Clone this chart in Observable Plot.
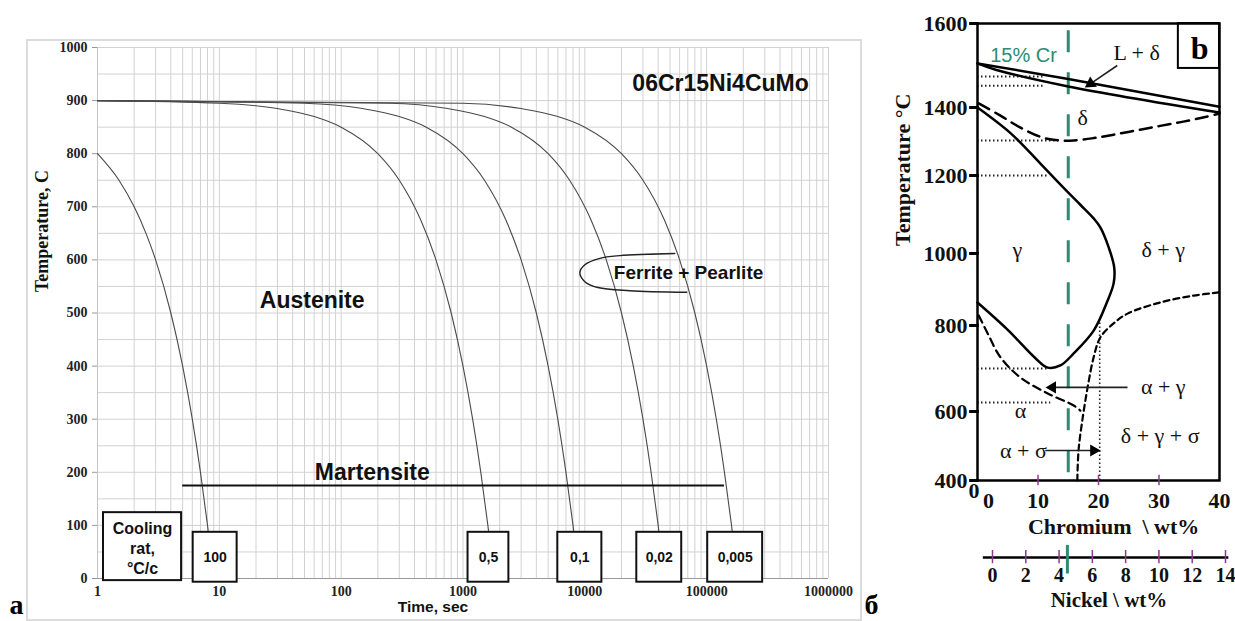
<!DOCTYPE html>
<html><head><meta charset="utf-8">
<script src="https://cdn.jsdelivr.net/npm/d3@7"></script>
<script src="https://cdn.jsdelivr.net/npm/@observablehq/plot@0.6"></script>
<style>
html,body{margin:0;padding:0;background:#fff;}
body{width:1235px;height:621px;position:relative;overflow:hidden;}
.panel{position:absolute;}
#frameA{position:absolute;left:26px;top:39px;width:832px;height:578px;border:2px solid #dcdcdc;z-index:5;pointer-events:none;}
</style></head><body>
<div id="left" class="panel" style="left:0;top:0"></div>
<div id="right" class="panel" style="left:870px;top:0"></div>
<div id="ni" class="panel" style="left:870px;top:535px"></div>
<div id="frameA"></div>
<script>
const SERIF = "'Liberation Serif','Times New Roman',serif";
const SANS = "'Liberation Sans',Arial,sans-serif";

// ---------- Panel a : CCT diagram ----------
const timeTicks = [1, 10, 100, 1000, 10000, 100000, 1000000];
const timeTickLabels = ["1", "10", "100", "1000", "10000", "100000", "1000000"];
const tempTicks = [0, 100, 200, 300, 400, 500, 600, 700, 800, 900, 1000];

const rateNames = ["100", "0,5", "0,1", "0,02", "0,005"];
const curveTimes = [
  [1, 1.5, 2, 2.5, 3, 4, 5, 6, 7, 8, 9],
  [1, 10, 30, 60, 100, 200, 300, 450, 600, 800, 1000, 1200, 1400, 1600, 1800],
  [1, 50, 150, 300, 500, 1000, 1500, 2250, 3000, 4000, 5000, 6000, 7000, 8000, 9000],
  [1, 250, 750, 1500, 2500, 5000, 7500, 11250, 15000, 20000, 25000, 30000, 35000, 40000, 45000],
  [1, 1000, 3000, 6000, 10000, 20000, 30000, 45000, 60000, 80000, 100000, 120000, 140000, 160000, 180000]
];
const curveTemps = [
  [800, 750, 700, 650, 600, 500, 400, 300, 200, 100, 0],
  [900, 895, 885, 870, 850, 800, 750, 675, 600, 500, 400, 300, 200, 100, 0],
  [900, 895, 885, 870, 850, 800, 750, 675, 600, 500, 400, 300, 200, 100, 0],
  [900, 895, 885, 870, 850, 800, 750, 675, 600, 500, 400, 300, 200, 100, 0],
  [900, 895, 885, 870, 850, 800, 750, 675, 600, 500, 400, 300, 200, 100, 0]
];

const ferriteTimes = [54700, 19400, 13300, 10000, 9100, 10000, 12800, 23400, 68500];
const ferriteTemps = [612, 608, 603, 591, 576, 559, 548, 542, 539];

const msTemp = 175, msFrom = 5, msTo = 140000;

const boxLabels = ["Cooling\nrat,\n°C/c", "100", "0,5", "0,1", "0,02", "0,005"];
const boxFrom = [1.12, 6.1, 1100, 6000, 26700, 102000];
const boxTo = [4.9, 14, 2380, 13800, 62400, 288000];
const boxTop = [124, 87, 87, 87, 87, 87];
const boxBottom = [-4, -7, -7, -7, -7, -7];
const boxTextTemp = [58, 39, 39, 39, 39, 39];

const regionNames = ["06Cr15Ni4CuMo", "Austenite", "Martensite"];
const regionTime = [130000, 57.8, 180];
const regionTemp = [932, 523, 200];
const ferriteLabel = {text: "Ferrite + Pearlite", t: 17300, T: 576};

// ---------- Panel b : Fe-Cr-Ni section ----------
const crTicks = [0, 10, 20, 30, 40];
const crTickLabels = ["0", "10", "20", "30", "40"];
const crMinorTicks = [10, 20, 30];
const crTempTicks = [400, 600, 800, 1000, 1200, 1400, 1600];
const crTempLabels = ["400", "600", "800", "1000", "1200", "1400", "1600"];

const liqUpperCr = [0, 15, 40], liqUpperT = [1505, 1468, 1402];
const liqLowerCr = [0, 3, 15, 40], liqLowerT = [1505, 1490, 1450, 1385];
const deltaCr = [0.2, 3.8, 7.1, 10.7, 13.7, 15.9, 19.2, 22.5, 26.4, 30.2, 33.6, 36.9, 40];
const deltaT = [1410, 1376, 1341, 1312, 1303, 1303, 1310, 1320, 1333, 1346, 1357, 1369, 1382];
const gammaCr = [0, 5.5, 10.4, 14.2, 17, 19.2, 20.3, 21.7, 22.6, 22.5, 21.5, 19.2, 15.9, 13.7, 11.6, 9.5, 5, 0];
const gammaT = [1400, 1324, 1235, 1169, 1125, 1090, 1067, 1015, 961, 917, 869, 788, 735, 707, 702, 725, 790, 864];
const alphaCr = [0.2, 1.7, 3.8, 7.1, 11.6, 15.9, 17];
const alphaT = [828, 781, 726, 679, 642, 614, 602];
const sigmaCr = [16.5, 16.7, 17.4, 18.2, 19.2, 20.3, 22.5, 24.8, 30.2, 35.7, 40];
const sigmaT = [400, 487, 583, 656, 726, 772, 806, 833, 864, 883, 892];

const dottedT = [1474, 1452, 1303, 1200, 700, 621];
const dottedEndCr = [10.9, 11.2, 13.7, 11.7, 11.6, 12.1];
const dottedVCr = 20.2, dottedVTop = 808;

const crLine = 15, crLineTop = 1583;

const phaseNames = ["L + δ", "δ", "γ", "δ + γ", "α + γ", "α", "α + σ", "δ + γ + σ"];
const phaseCr = [26.3, 17.4, 6.6, 30.7, 30.7, 7.1, 7.6, 30.2];
const phaseT = [1529, 1368, 1008, 1008, 656, 602, 487, 530];

const arrowFromCr = [23.1, 24.8, 11.2], arrowFromT = [1500, 656, 487];
const arrowToCr = [18.7, 12.4, 19.2], arrowToT = [1457, 656, 487];

const niTicks = [0, 2, 4, 6, 8, 10, 12, 14];
const niTickLabels = ["0", "2", "4", "6", "8", "10", "12", "14"];
const niMark = 4.5;

const GREEN = "#2b8c72";
const PURPLE = "#8e3b8e";

// ---------- build panel a ----------
const curveRows = rateNames.flatMap((r, i) => curveTimes[i].map((t, j) => ({rate: r, t, T: curveTemps[i][j]})));
const ferriteRows = ferriteTimes.map((t, i) => ({t, T: ferriteTemps[i]}));
const boxes = boxLabels.map((label, i) => ({label, x1: boxFrom[i], x2: boxTo[i], y1: boxBottom[i], y2: boxTop[i], ty: boxTextTemp[i]}));
const regions = regionNames.map((n, i) => ({n, t: regionTime[i], T: regionTemp[i]}));
const timeGrid = timeTicks.slice(0, -1).flatMap(d => [1, 2, 3, 4, 5, 6, 7, 8, 9].map(m => d * m)).concat([timeTicks[timeTicks.length - 1]]);
const tempGrid = d3.range(0, 1001, 50);
const timeLabelRows = timeTicks.map((t, i) => ({t, s: timeTickLabels[i]}));

const left = Plot.plot({
  width: 880, height: 621,
  marginLeft: 97, marginRight: 52, marginTop: 47, marginBottom: 43,
  style: {background: "transparent", fontFamily: SANS},
  x: {type: "log", domain: [1, 1000000], range: [97, 828], axis: null},
  y: {domain: [0, 1000], range: [578, 47], axis: null},
  marks: [
    Plot.ruleX(timeGrid, {x: d => d, stroke: "#d2d2d2", strokeWidth: 1}),
    Plot.ruleY(tempGrid, {y: d => d, stroke: "#d2d2d2", strokeWidth: 1}),
    Plot.ruleY([0], {x1: 0.91, x2: 1000000, stroke: "#9a9a9a", strokeWidth: 1.2}),
    Plot.ruleX([1], {stroke: "#c4c4c4", strokeWidth: 1}),
    Plot.ruleY(tempTicks, {y: d => d, x1: 0.91, x2: 1, stroke: "#999", strokeWidth: 1}),
    Plot.text(tempTicks, {x: 1, y: d => d, dx: -10, textAnchor: "end", text: d => String(d), fontFamily: SERIF, fontWeight: "bold", fontSize: 14, fill: "#222"}),
    Plot.text(timeLabelRows, {x: "t", y: 0, dy: 13, text: "s", fontFamily: SERIF, fontWeight: "bold", fontSize: 14, fill: "#222"}),
    Plot.line(curveRows, {x: "t", y: "T", z: "rate", stroke: "#4a4a4a", strokeWidth: 1.1, curve: "monotone-x"}),
    Plot.line(ferriteRows, {x: "t", y: "T", stroke: "#222", strokeWidth: 1.4, curve: "catmull-rom"}),
    Plot.ruleY([msTemp], {x1: msFrom, x2: msTo, stroke: "#111", strokeWidth: 2}),
    Plot.rect(boxes, {x1: "x1", x2: "x2", y1: "y1", y2: "y2", fill: "#fff", stroke: "#111", strokeWidth: 2}),
    Plot.text(boxes.slice(0, 1), {x: d => Math.sqrt(d.x1 * d.x2), y: "ty", text: "label", fontWeight: "bold", fontSize: 16, lineHeight: 1.25, fill: "#111"}),
    Plot.text(boxes.slice(1), {x: d => Math.sqrt(d.x1 * d.x2), y: "ty", text: "label", fontWeight: "bold", fontSize: 14, fill: "#111"}),
    Plot.text(regions, {x: "t", y: "T", text: "n", fontWeight: "bold", fontSize: 23, fill: "#111"}),
    Plot.text([ferriteLabel], {x: "t", y: "T", text: "text", textAnchor: "start", fontWeight: "bold", fontSize: 19, fill: "#111"}),
    Plot.text(["Temperature, C"], {frameAnchor: "left", dx: -55, dy: -21, rotate: -90, fontFamily: SERIF, fontWeight: "bold", fontSize: 18, fill: "#111"}),
    Plot.text(["Time, sec"], {frameAnchor: "bottom", dx: -30, dy: 33, fontWeight: "bold", fontSize: 15.5, fill: "#111"}),
    Plot.text(["a"], {frameAnchor: "bottom-left", dx: -88, dy: 35, textAnchor: "start", lineAnchor: "bottom", fontFamily: SERIF, fontWeight: "bold", fontSize: 28, fill: "#000"}),
    Plot.text(["б"], {frameAnchor: "bottom-right", dx: 36, dy: 35, textAnchor: "start", lineAnchor: "bottom", fontFamily: SERIF, fontWeight: "bold", fontSize: 28, fill: "#000"})
  ]
});
document.getElementById("left").append(left);

// ---------- build panel b ----------
const pts = (xs, ys) => xs.map((x, i) => ({x, y: ys[i]}));
const dotted = dottedT.map((T, i) => ({T, end: dottedEndCr[i]}));
const phases = phaseNames.map((n, i) => ({n, x: phaseCr[i], y: phaseT[i]}));
const arrows = arrowFromCr.map((x1, i) => ({x1, y1: arrowFromT[i], x2: arrowToCr[i], y2: arrowToT[i]}));
const crLabelRows = crTicks.map((c, i) => ({c, s: crTickLabels[i]}));
const crTempRows = crTempTicks.map((T, i) => ({T, s: crTempLabels[i]}));

const right = Plot.plot({
  width: 365, height: 621,
  marginLeft: 107, marginRight: 16, marginTop: 23, marginBottom: 141,
  style: {background: "transparent", fontFamily: SERIF},
  x: {domain: [0, 40], range: [107, 349], axis: null},
  y: {type: "linear", domain: crTempTicks, range: [480, 411, 325, 253, 175, 107, 23], axis: null},
  marks: [
    Plot.ruleY(dotted, {y: "T", x1: 0, x2: "end", stroke: "#222", strokeWidth: 2, strokeDasharray: "1.5,2.5"}),
    Plot.ruleX([dottedVCr], {x: d => d, y1: 400, y2: dottedVTop, stroke: "#222", strokeWidth: 1.6, strokeDasharray: "1.5,2.5"}),
    Plot.ruleX([crLine], {x: d => d, y1: crLineTop, y2: 400, stroke: GREEN, strokeWidth: 3, strokeDasharray: "22,20"}),
    Plot.line(pts(liqUpperCr, liqUpperT), {x: "x", y: "y", stroke: "#000", strokeWidth: 2.5}),
    Plot.line(pts(liqLowerCr, liqLowerT), {x: "x", y: "y", stroke: "#000", strokeWidth: 2.5, curve: "catmull-rom"}),
    Plot.line(pts(deltaCr, deltaT), {x: "x", y: "y", stroke: "#000", strokeWidth: 2.5, strokeDasharray: "12,7", curve: "catmull-rom"}),
    Plot.line(pts(gammaCr, gammaT), {x: "x", y: "y", stroke: "#000", strokeWidth: 2.5, curve: "catmull-rom"}),
    Plot.line(pts(alphaCr, alphaT), {x: "x", y: "y", stroke: "#000", strokeWidth: 2.2, strokeDasharray: "8,5", curve: "catmull-rom"}),
    Plot.line(pts(sigmaCr, sigmaT), {x: "x", y: "y", stroke: "#000", strokeWidth: 2.2, strokeDasharray: "6,4", curve: "catmull-rom"}),
    Plot.link(arrows, {x1: "x1", y1: "y1", x2: "x2", y2: "y2", stroke: "#222", strokeWidth: 1.6}),
    Plot.dot(arrows.slice(0, 1), {x: "x2", y: "y2", symbol: "triangle", r: 4.5, fill: "#000", rotate: 236}),
    Plot.dot(arrows.slice(1, 2), {x: "x2", y: "y2", symbol: "triangle", r: 4.5, fill: "#000", rotate: 270}),
    Plot.dot(arrows.slice(2, 3), {x: "x2", y: "y2", symbol: "triangle", r: 4.5, fill: "#000", rotate: 90}),
    Plot.rect([{x1: 33.2, x2: 40, y1: 1493, y2: 1600}], {x1: "x1", x2: "x2", y1: "y1", y2: "y2", fill: "#fff", stroke: "#000", strokeWidth: 2}),
    Plot.text(["b"], {x: 36.7, y: 1540, fontWeight: "bold", fontSize: 32, fill: "#000"}),
    Plot.frame({stroke: "#000", strokeWidth: 2.5}),
    Plot.ruleX(crMinorTicks, {x: d => d, y1: 385, y2: 415, stroke: PURPLE, strokeWidth: 1.5}),
    Plot.ruleY(crTempTicks, {y: d => d, x1: -1.3, x2: 0.3, stroke: "#000", strokeWidth: 3}),
    Plot.text(crTempRows, {x: 0, y: "T", dx: -10, textAnchor: "end", text: "s", fontSize: 22, fontWeight: "bold", fill: "#111"}),
    Plot.text(crLabelRows.slice(0, 1), {x: "c", frameAnchor: "bottom", dx: 11, dy: 27, text: "s", fontSize: 22, fontWeight: "bold", fill: "#111"}),
    Plot.text(crLabelRows.slice(1), {x: "c", frameAnchor: "bottom", dy: 27, text: "s", fontSize: 22, fontWeight: "bold", fill: "#111"}),
    Plot.text(["0"], {frameAnchor: "bottom-left", dx: -9, dy: 17, fontSize: 22, fontWeight: "bold", fill: "#111"}),
    Plot.text(["Chromium  \\ wt%"], {x: 22.5, frameAnchor: "bottom", dy: 53, fontSize: 22, fontWeight: "bold", fill: "#111"}),
    Plot.text(["Temperature °C"], {frameAnchor: "left", dx: -75, dy: -6, rotate: -90, fontSize: 22, fontWeight: "bold", fill: "#111"}),
    Plot.text(["15% Cr"], {x: 7.6, y: 1524, fontFamily: SANS, fontSize: 20, fill: GREEN}),
    Plot.text(phases, {x: "x", y: "y", text: "n", fontSize: 22, fill: "#111"})
  ]
});
document.getElementById("right").append(right);

// ---------- nickel scale ----------
const niLabelRows = niTicks.map((n, i) => ({n, s: niTickLabels[i]}));
const ni = Plot.plot({
  width: 365, height: 86,
  marginLeft: 122, marginRight: 10, marginTop: 0, marginBottom: 0,
  style: {background: "transparent", fontFamily: SERIF},
  x: {domain: [0, 14], range: [122, 355], axis: null},
  y: {domain: [0, 1], range: [22, 0], axis: null},
  marks: [
    Plot.ruleY([0], {x1: -0.55, x2: 14.2, stroke: "#000", strokeWidth: 2.5}),
    Plot.ruleX(niTicks, {x: d => d, y1: -0.28, y2: 0.32, stroke: PURPLE, strokeWidth: 1.5}),
    Plot.ruleX([niMark], {x: d => d, y1: 0.55, y2: -0.75, stroke: GREEN, strokeWidth: 3}),
    Plot.text(niLabelRows, {x: "n", y: 0, dy: 18, text: "s", fontSize: 20, fontWeight: "bold", fill: "#111"}),
    Plot.text(["Nickel \\ wt%"], {x: 7, y: 0, dy: 43, fontSize: 21, fontWeight: "bold", fill: "#111"})
  ]
});
document.getElementById("ni").append(ni);
</script>
</body></html>
